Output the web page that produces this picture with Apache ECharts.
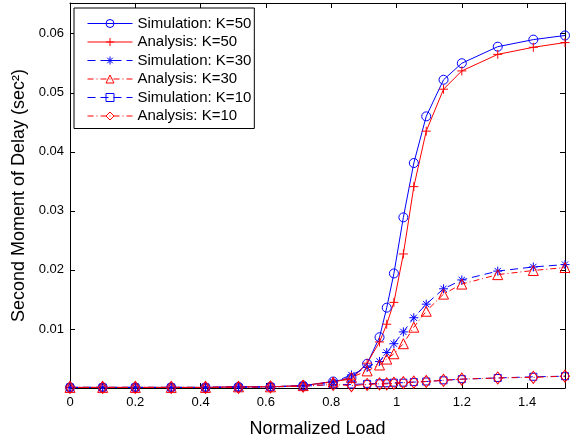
<!DOCTYPE html>
<html>
<head>
<meta charset="utf-8">
<script src="https://cdn.jsdelivr.net/npm/echarts@6/dist/echarts.min.js"></script>
<style>html,body{margin:0;padding:0;background:#fff}#c{width:570px;height:443px}</style>
</head>
<body>
<div id="c"></div>
<script>
// ---- data ----
var load = [0, 0.1, 0.2, 0.31, 0.415, 0.516, 0.614, 0.714, 0.806, 0.862, 0.91, 0.948, 0.97, 0.992, 1.021, 1.053, 1.091, 1.144, 1.2, 1.31, 1.419, 1.516];
var simK50 = [0.0001, 0.0001, 0.0001, 0.0001, 0.0001, 0.0002, 0.0002, 0.0004, 0.0011, 0.0017, 0.0041, 0.0086, 0.0136, 0.0194, 0.0289, 0.0381, 0.0460, 0.0522, 0.0550, 0.0578, 0.0590, 0.0597];
var anaK50 = [0.0001, 0.0001, 0.0001, 0.0001, 0.0001, 0.0002, 0.0002, 0.0004, 0.0011, 0.0015, 0.0042, 0.0078, 0.0108, 0.0145, 0.0227, 0.0341, 0.0435, 0.0506, 0.0537, 0.0565, 0.0577, 0.0585];
var simK30 = [0.0001, 0.0001, 0.0001, 0.0001, 0.0001, 0.0002, 0.0002, 0.0004, 0.0010, 0.0022, 0.0035, 0.0045, 0.0060, 0.0075, 0.0095, 0.0119, 0.0142, 0.0168, 0.0183, 0.0198, 0.0205, 0.0209];
var anaK30 = [0.0001, 0.0001, 0.0001, 0.0001, 0.0001, 0.0002, 0.0002, 0.0004, 0.0010, 0.0018, 0.0029, 0.0039, 0.0049, 0.0058, 0.0075, 0.0103, 0.0130, 0.0159, 0.0176, 0.0192, 0.0199, 0.0204];
var simK10 = [0.0001, 0.0001, 0.0001, 0.0001, 0.0001, 0.0001, 0.0002, 0.0003, 0.0006, 0.0006, 0.0007, 0.0008, 0.0008, 0.0009, 0.0009, 0.0010, 0.0011, 0.0013, 0.0015, 0.0017, 0.0019, 0.0020];
var anaK10 = [0.0001, 0.0001, 0.0001, 0.0001, 0.0001, 0.0001, 0.0002, 0.0003, 0.0006, 0.0004, 0.0006, 0.0007, 0.0007, 0.0008, 0.0009, 0.0010, 0.0011, 0.0013, 0.0015, 0.0017, 0.0018, 0.0020];
var seriesNames = ['Simulation: K=50', 'Analysis: K=50', 'Simulation: K=30', 'Analysis: K=30', 'Simulation: K=10', 'Analysis: K=10'];
var xTitle = 'Normalized Load';
var yTitle = 'Second Moment of Delay (sec\u00B2)';

// ---- chart ----
var FONT = '"Liberation Sans", Arial, Helvetica, sans-serif';
var BLUE = '#0000ff', RED = '#ff0000';
function pairs(ys) { return load.map(function (x, i) { return [x, ys[i]]; }); }

var PLUS = 'path://M5,0L5,10M0,5L10,5';
var STAR = 'path://M5,0L5,10M0,5L10,5M1.5,1.5L8.5,8.5M8.5,1.5L1.5,8.5';

function mk(name, ys, color, lineType, symbol, size) {
  return {
    name: name, type: 'line', data: pairs(ys),
    symbol: symbol, symbolSize: size, showSymbol: true, showAllSymbol: true,
    clip: false, animation: false, silent: true,
    lineStyle: { color: color, width: 1, type: lineType },
    itemStyle: { color: 'transparent', borderColor: color, borderWidth: 1 },
    emphasis: { disabled: true }
  };
}

var xMax = load[load.length - 1];
var yMax = 0.0652;
var tickLbl = { fontFamily: FONT, fontSize: 13, color: '#000' };

var option = {
  backgroundColor: '#fff',
  animation: false,
  grid: { left: 70, right: 5, top: 3, bottom: 48, containLabel: false },
  legend: {
    data: seriesNames,
    orient: 'vertical', left: 74, top: 8,
    itemWidth: 45, itemHeight: 10, itemGap: 3.5,
    padding: [8, 3, 5, 13],
    backgroundColor: '#fff', borderColor: '#000', borderWidth: 1, borderRadius: 0,
    textStyle: { fontFamily: FONT, fontSize: 15, color: '#000', lineHeight: 15 },
    itemStyle: { borderWidth: 1 },
    lineStyle: { width: 1 },
    selectedMode: false
  },
  xAxis: [{
    type: 'value', min: 0, max: xMax, interval: 0.2,
    name: xTitle, nameLocation: 'middle', nameGap: 32,
    nameTextStyle: { fontFamily: FONT, fontSize: 18, color: '#000' },
    axisLine: { show: true, lineStyle: { color: '#000', width: 1 } },
    axisTick: { show: true, inside: true, length: 5, lineStyle: { color: '#000' } },
    axisLabel: Object.assign({ margin: 8, showMaxLabel: false }, tickLbl),
    splitLine: { show: false }
  }, {
    type: 'value', position: 'top', min: 0, max: xMax, interval: 0.2,
    axisLine: { show: true, onZero: false, lineStyle: { color: '#000', width: 1 } },
    axisTick: { show: true, inside: true, length: 5, lineStyle: { color: '#000' } },
    axisLabel: { show: false }, splitLine: { show: false }
  }],
  yAxis: [{
    type: 'value', min: 0, max: yMax, interval: 0.01,
    name: yTitle, nameLocation: 'middle', nameGap: 42,
    nameTextStyle: { fontFamily: FONT, fontSize: 18, color: '#000' },
    axisLine: { show: true, lineStyle: { color: '#000', width: 1 } },
    axisTick: { show: true, inside: true, length: 5, lineStyle: { color: '#000' } },
    axisLabel: Object.assign({ margin: 6, showMaxLabel: false, showMinLabel: false }, tickLbl),
    splitLine: { show: false }
  }, {
    type: 'value', position: 'right', min: 0, max: yMax, interval: 0.01,
    axisLine: { show: true, onZero: false, lineStyle: { color: '#000', width: 1 } },
    axisTick: { show: true, inside: true, length: 5, lineStyle: { color: '#000' } },
    axisLabel: { show: false }, splitLine: { show: false }
  }],
  series: [
    mk(seriesNames[0], simK50, BLUE, 'solid', 'circle', 9),
    mk(seriesNames[1], anaK50, RED, 'solid', PLUS, 9),
    mk(seriesNames[2], simK30, BLUE, [8, 5], STAR, 9),
    mk(seriesNames[3], anaK30, RED, [6, 3, 1, 3], 'triangle', 10),
    mk(seriesNames[4], simK10, BLUE, [8, 5], 'rect', 7),
    mk(seriesNames[5], anaK10, RED, [6, 3, 1, 3], 'diamond', [9, 12])
  ]
};
var chart = echarts.init(document.getElementById('c'), null, { renderer: 'canvas' });
chart.setOption(option);
</script>
</body>
</html>
